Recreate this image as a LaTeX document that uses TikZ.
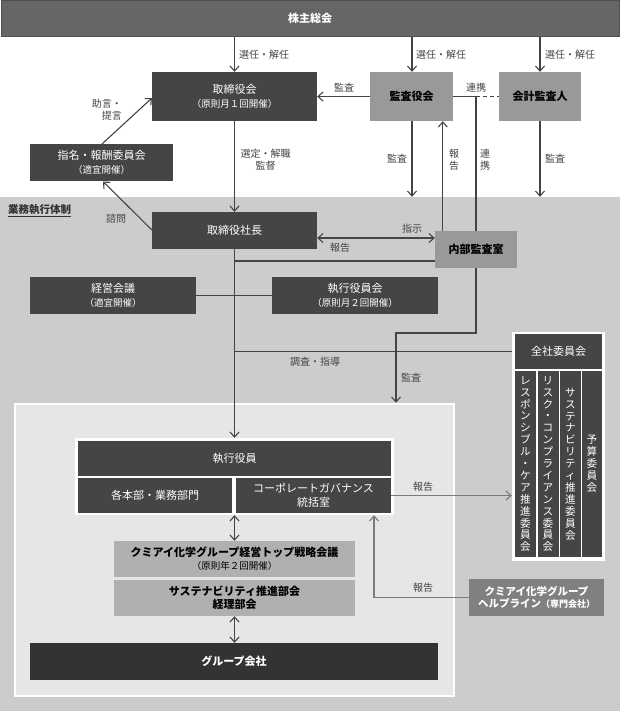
\documentclass[tikz,border=0pt]{standalone}
\usepackage{fontspec}
\setmainfont{Noto Sans CJK JP}
\usetikzlibrary{arrows.meta}
\definecolor{cTop}{HTML}{666666}
\definecolor{cTopB}{HTML}{505050}
\definecolor{cDark}{HTML}{454545}
\definecolor{cDarker}{HTML}{333333}
\definecolor{cMid}{HTML}{999999}
\definecolor{cLight}{HTML}{B0B0B0}
\definecolor{cHelp}{HTML}{808080}
\definecolor{cRegion}{HTML}{CCCCCC}
\definecolor{cInner}{HTML}{E6E6E6}
\definecolor{cLine}{HTML}{444444}
\definecolor{cLineG}{HTML}{7A7A7A}
\definecolor{cLbl}{HTML}{444444}
\tikzset{
  basebox/.style={inner sep=0pt, align=center, font=\fontsize{11}{13.5}\selectfont},
  dbox/.style={basebox, fill=cDark, text=white},
  mbox/.style={basebox, fill=cMid, text=black, font=\bfseries\fontsize{11}{13.5}\selectfont},
  lbox/.style={basebox, fill=cLight, text=black, font=\bfseries\fontsize{11}{13}\selectfont},
  wgroup/.style={fill=white, inner sep=0pt},
  vcol/.style={fill=cDark, text=white, inner sep=0pt, align=center, font=\fontsize{10.6}{11.9}\selectfont},
  lbl/.style={text=cLbl, inner sep=0pt, font=\fontsize{10}{12}\selectfont},
  conn/.style={draw=cLine, line width=1.1pt},
  connG/.style={draw=cLineG, line width=1.1pt},
  arr/.style={conn, -{Straight Barb[length=5pt,width=9pt]}},
  arrG/.style={connG, -{Straight Barb[length=5pt,width=9pt]}},
  darr/.style={conn, {Straight Barb[length=5pt,width=9pt]}-{Straight Barb[length=5pt,width=9pt]}},
}
\newcommand{\subl}[1]{{\fontsize{9.5}{11}\selectfont #1}}
\begin{document}
\begin{tikzpicture}[x=1pt,y=-1pt]
\useasboundingbox (0,0) rectangle (620,711);
\fill[white] (0,0) rectangle (620,711);
% region
\node[fill=cRegion, inner sep=0pt, minimum width=620pt, minimum height=514pt] (region) at (310,454) {};
\node[fill=cInner, draw=white, line width=2.5pt, inner sep=0pt, minimum width=439pt, minimum height=292pt] (inner) at (234.5,550) {};
% top bar
\node[fill=cTop, draw=cTopB, line width=1pt, text=white, inner sep=0pt, minimum width=618pt, minimum height=36pt, font=\bfseries\fontsize{11}{13}\selectfont] (kabu) at (310,18.5) {株主総会};
% boxes
\node[dbox, minimum width=165pt, minimum height=49pt] (tori) at (234.5,96.5) {取締役会\\\subl{（原則月１回開催）}};
\node[mbox, minimum width=83pt, minimum height=49pt] (kansa) at (411.5,96.5) {監査役会};
\node[mbox, minimum width=82pt, minimum height=49pt] (kaikei) at (540,96.5) {会計監査人};
\node[dbox, minimum width=143pt, minimum height=37pt] (shimei) at (101.5,162.5) {指名・報酬委員会\\\subl{（適宜開催）}};
\node[dbox, minimum width=165pt, minimum height=37pt] (shacho) at (234.5,230.5) {取締役社長};
\node[mbox, minimum width=82pt, minimum height=37pt] (naibu) at (476,249.5) {内部監査室};
\node[dbox, minimum width=166pt, minimum height=37pt] (keiei) at (113,295.5) {経営会議\\\subl{（適宜開催）}};
\node[dbox, minimum width=166pt, minimum height=37pt] (shikko) at (355,295.5) {執行役員会\\\subl{（原則月２回開催）}};
% zensha group
\node[wgroup, minimum width=93pt, minimum height=229pt] (zensha) at (558.5,446.5) {};
\node[dbox, minimum width=87pt, minimum height=35pt] (zhead) at (558.5,351.5) {全社委員会};
\node[vcol, minimum width=21pt, minimum height=186pt] (c1) at (525.5,464) {レ\\ス\\ポ\\ン\\シ\\ブ\\ル\\・\\ケ\\ア\\推\\進\\委\\員\\会};
\node[vcol, minimum width=21pt, minimum height=186pt] (c2) at (548,464) {リ\\ス\\ク\\・\\コ\\ン\\プ\\ラ\\イ\\ア\\ン\\ス\\委\\員\\会};
\node[vcol, minimum width=21pt, minimum height=186pt] (c3) at (570.5,464) {サ\\ス\\テ\\ナ\\ビ\\リ\\テ\\ィ\\推\\進\\委\\員\\会};
\node[vcol, minimum width=20pt, minimum height=186pt] (c4) at (592,464) {予\\算\\委\\員\\会};
% shikko yakuin group
\node[wgroup, minimum width=319pt, minimum height=77pt] (sgroup) at (234.5,476.5) {};
\node[dbox, minimum width=313pt, minimum height=35pt] (yakuin) at (234.5,458.5) {執行役員};
\node[dbox, minimum width=154pt, minimum height=35pt] (honbu) at (155,495.5) {各本部・業務部門};
\node[dbox, minimum width=155pt, minimum height=35pt] (cg) at (313.5,495.5) {コーポレートガバナンス\\統括室};
\node[lbox, minimum width=241pt, minimum height=36pt] (top) at (234.5,559) {クミアイ化学グループ経営トップ戦略会議\\{\mdseries\subl{（原則年２回開催）}}};
\node[lbox, minimum width=241pt, minimum height=36pt] (suishin) at (234.5,598) {サステナビリティ推進部会\\経理部会};
\node[basebox, fill=cDarker, text=white, minimum width=408pt, minimum height=37pt, font=\bfseries\fontsize{11}{13}\selectfont] (gkaisha) at (234,661.5) {グループ会社};
\node[basebox, fill=cHelp, text=white, minimum width=135pt, minimum height=37pt, font=\bfseries\fontsize{10.5}{12.5}\selectfont] (help) at (536.5,597.5) {クミアイ化学グループ\\ヘルプライン{\fontsize{9}{11}\selectfont（専門会社）}};
% connectors top
\draw[arr] (tori.north |- kabu.south) -- (tori.north);
\draw[arr] ([xshift=0.5pt]kansa.north |- kabu.south) -- ([xshift=0.5pt]kansa.north);
\draw[arr] (kaikei.north |- kabu.south) -- (kaikei.north);
\draw[arr] (kansa.west) -- (tori.east);
\coordinate (renk) at (476,96.5);
\draw[conn] (kansa.east) -- (renk);
\draw[conn, dash pattern=on 4pt off 3pt] (renk) -- (kaikei.west);
\draw[conn] (renk) -- (naibu.north);
\draw[arr] ([xshift=0.5pt]kansa.south) -- ([xshift=0.5pt]kansa.south |- region.north);
\draw[arr] (kaikei.south) -- (kaikei.south |- region.north);
\coordinate (rp) at ([xshift=8pt]naibu.north west);
\draw[arr] (rp) -- (rp |- kansa.south);
\coordinate (sh1) at (102,144);
\coordinate (th1) at (152,98);
\draw[arr] (sh1) -- (th1);
\coordinate (sc1) at (152,230);
\coordinate (sh2) at (103,181.5);
\draw[arr] (sc1) -- (sh2);
\draw[arr] (tori.south) -- (shacho.north);
% executive
\coordinate (dy) at (0,238);
\draw[darr] (shacho.east |- dy) -- (naibu.west |- dy);
\coordinate (nL) at ([yshift=-11.5pt]naibu.west);
\draw[conn] (nL) -- (nL -| shacho.south);
\draw[conn] (keiei.east) -- (shikko.west);
\draw[arr] (shacho.south) -- (sgroup.north);
\draw[conn] (zhead.west -| shacho.south) -- (zhead.west -| zensha.west);
\coordinate (k1) at (476,333);
\coordinate (k2) at (396,333);
\draw[arr] (naibu.south) -- (k1) -- (k2) -- (k2 |- inner.north);
\draw[arrG] (cg.east) -- (cg.east -| zensha.west);
\coordinate (hp) at (374,597.5);
\draw[arrG] (help.west) -- (hp) -- (hp |- sgroup.south);
\draw[darr] (sgroup.south) -- (top.north);
\draw[darr] (suishin.south) -- (gkaisha.north -| suishin.south);
% labels
\node[lbl, anchor=west] (l1) at (239,55) {選任・解任};
\node[lbl, anchor=west] (l2) at (416,55) {選任・解任};
\node[lbl, anchor=west] (l3) at (545,55) {選任・解任};
\node[lbl] (l4) at (344,88) {監査};
\node[lbl] (l5) at (476,88) {連携};
\node[lbl, align=right, anchor=east] (l6) at (122,109.5) {助言・\\提言};
\node[lbl, align=center] (l7) at (265.5,159.5) {選定・解職\\監督};
\node[lbl] (l8) at (397,159) {監査};
\node[lbl, align=center] (l9) at (454,160) {報\\告};
\node[lbl, align=center] (l10) at (485,160) {連\\携};
\node[lbl] (l11) at (555,159) {監査};
\node[inner sep=0pt, anchor=west, text=cDarker, font=\bfseries\fontsize{10.5}{12}\selectfont] (l12) at (8,211) {\underline{業務執行体制}};
\node[lbl] (l13) at (116,219) {諮問};
\node[lbl] (l14) at (412,229) {指示};
\node[lbl] (l15) at (340,248) {報告};
\node[lbl] (l16) at (315,362) {調査・指導};
\node[lbl] (l17) at (411,378) {監査};
\node[lbl] (l18) at (423,487) {報告};
\node[lbl] (l19) at (423,588) {報告};
\end{tikzpicture}
\end{document}
